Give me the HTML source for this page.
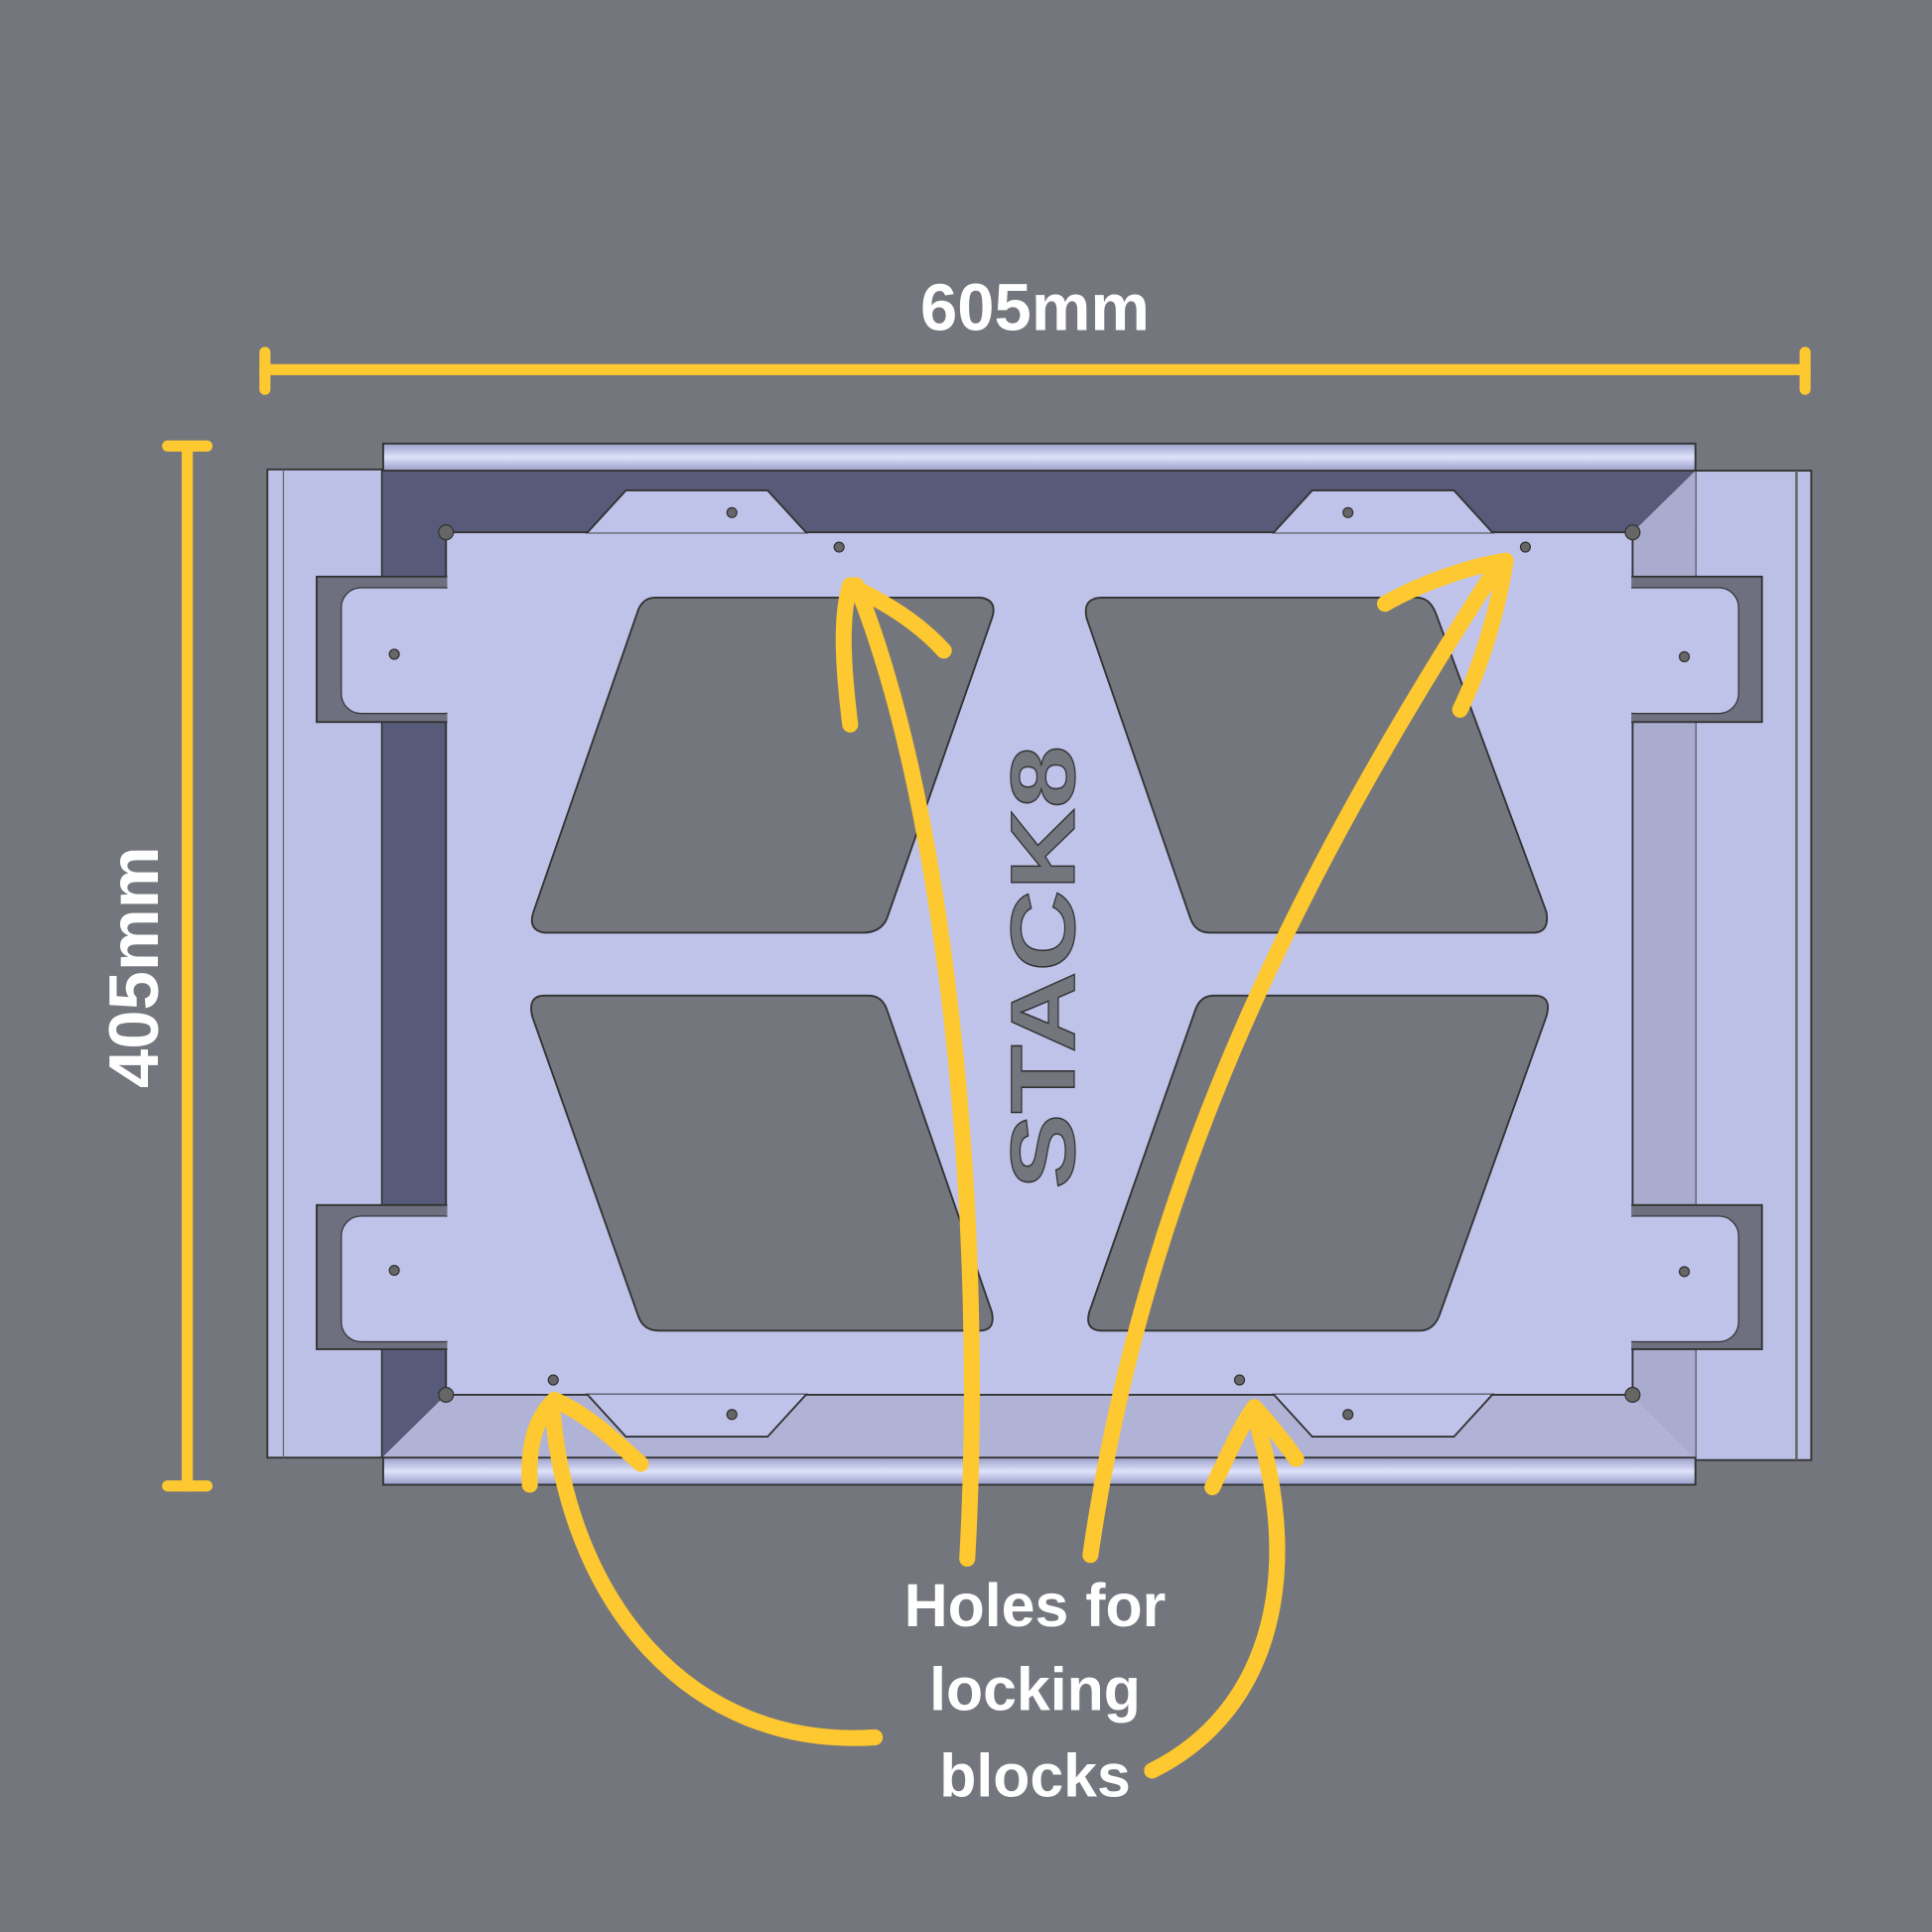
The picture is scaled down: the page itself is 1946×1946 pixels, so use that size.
<!DOCTYPE html>
<html><head><meta charset="utf-8"><style>
html,body{margin:0;padding:0;background:#74767d;}
svg{display:block;}
</style></head><body>
<svg width="1946" height="1946" viewBox="0 0 1568 1568" xmlns="http://www.w3.org/2000/svg">
<defs>
<linearGradient id="bar" x1="0" y1="0" x2="0" y2="1">
<stop offset="0" stop-color="#9a9ec8"/><stop offset="0.5" stop-color="#dfe2fb"/><stop offset="1" stop-color="#9a9ec8"/></linearGradient>
</defs>
<rect width="1568" height="1568" fill="#74767d"/>
<text x="840" y="268" text-anchor="middle" fill="#fff" font-family="Liberation Sans, sans-serif" font-weight="bold" font-size="54">605mm</text>
<g stroke="#fdc830" stroke-width="9" stroke-linecap="round" fill="none">
<line x1="215" y1="300" x2="1465" y2="300"/><line x1="215" y1="286" x2="215" y2="316"/><line x1="1465" y1="286" x2="1465" y2="316"/>
<line x1="152" y1="362" x2="152" y2="1206"/><line x1="136" y1="362" x2="168" y2="362"/><line x1="136" y1="1206" x2="168" y2="1206"/>
</g>
<text transform="translate(128,785) rotate(-90)" text-anchor="middle" fill="#fff" font-family="Liberation Sans, sans-serif" font-weight="bold" font-size="57">405mm</text>
<rect x="217" y="381" width="93" height="802" fill="#bcc0e6" stroke="#333" stroke-width="1.5"/>
<rect x="1376" y="382" width="94" height="803" fill="#bcc0e6" stroke="#333" stroke-width="1.5"/>
<line x1="230" y1="381" x2="230" y2="1183" stroke="#666" stroke-width="1"/>
<line x1="1458" y1="382" x2="1458" y2="1185" stroke="#666" stroke-width="2"/>
<rect x="310" y="382" width="1066" height="801" fill="#575a78" stroke="#333"/>
<polygon points="310,1183 1376,1183 1325,1132 362,1132" fill="#b0b3d5"/>
<polygon points="1376,382 1376,1183 1325,1132 1325,432" fill="#a9acce"/>
<rect x="311" y="360" width="1065" height="22" fill="url(#bar)" stroke="#333" stroke-width="1.5"/>
<rect x="311" y="1183" width="1065" height="22" fill="url(#bar)" stroke="#333" stroke-width="1.5"/>
<g fill="#bfc3ea" stroke="#333" stroke-width="1.5">
<rect x="362" y="432" width="963" height="700"/>
<polygon points="476,433 508,398 623,398 655,433"/><polygon points="1033,433 1065,398 1180,398 1212,433"/>
<polygon points="476,1131 508,1166 623,1166 655,1131"/><polygon points="1033,1131 1065,1166 1180,1166 1212,1131"/>
</g>
<g fill="#6e7080" stroke="#333" stroke-width="1.5">
<rect x="257" y="468" width="108" height="118"/><rect x="257" y="978" width="108" height="117"/>
<rect x="1322" y="468" width="108" height="118"/><rect x="1322" y="978" width="108" height="117"/>
</g>
<g fill="#bfc3ea" stroke="#333" stroke-width="1"><rect x="277" y="477" width="100" height="102" rx="16"/><rect x="277" y="987" width="100" height="102" rx="16"/><rect x="1310" y="477" width="101" height="102" rx="16"/><rect x="1310" y="987" width="101" height="102" rx="16"/></g>
<g fill="#bfc3ea"><rect x="363" y="433" width="961" height="698"/></g>
<g fill="#74767d" stroke="#333" stroke-width="1.5" stroke-linejoin="round">
<path d="M532,485 L796,485 Q810,487 805,502 L720,745 Q715,757 700,757 L442,757 Q428,755 433,740 L518,495 Q522,485 532,485Z"/>
<path d="M895,485 L1150,485 Q1160,485 1165,497 L1255,740 Q1258,757 1244,757 L982,757 Q970,757 966,745 L882,502 Q878,485 895,485Z"/>
<path d="M442,808 L705,808 Q716,808 720,820 L805,1065 Q808,1080 795,1080 L535,1080 Q522,1080 518,1068 L432,825 Q428,808 442,808Z"/>
<path d="M985,808 L1245,808 Q1260,808 1255,825 L1168,1068 Q1163,1080 1152,1080 L895,1080 Q880,1080 884,1065 L970,820 Q974,808 985,808Z"/>
</g>
<g fill="#666" stroke="#333"><circle cx="594" cy="416" r="4"/><circle cx="681" cy="444" r="4"/><circle cx="1094" cy="416" r="4"/><circle cx="1238" cy="444" r="4"/>
<circle cx="320" cy="531" r="4"/><circle cx="320" cy="1031" r="4"/><circle cx="1367" cy="533" r="4"/><circle cx="1367" cy="1032" r="4"/>
<circle cx="449" cy="1120" r="4"/><circle cx="594" cy="1148" r="4"/><circle cx="1006" cy="1120" r="4"/><circle cx="1094" cy="1148" r="4"/>
<circle cx="362" cy="432" r="6"/><circle cx="1325" cy="432" r="6"/><circle cx="362" cy="1132" r="6"/><circle cx="1325" cy="1132" r="6"/></g>
<text transform="translate(872,785) rotate(-90)" text-anchor="middle" fill="#74767d" stroke="#333" stroke-width="1" font-family="Liberation Sans, sans-serif" font-weight="bold" font-size="74" textLength="360" lengthAdjust="spacingAndGlyphs">STACK8</text>
<g stroke="#fdc830" stroke-width="13" stroke-linecap="round" stroke-linejoin="round" fill="none">
<path d="M785,1265 C800,1000 770,660 695,475"/><path d="M690,588 C684,540 682,500 690,475 C720,490 745,505 766,528"/>
<path d="M885,1262 C930,950 1060,700 1215,460"/><path d="M1124,490 C1150,475 1190,460 1222,455 C1215,500 1200,545 1185,576"/>
<path d="M710,1410 C560,1420 460,1300 448,1140"/><path d="M430,1205 C428,1170 436,1150 450,1136 C480,1150 500,1170 520,1188"/>
<path d="M935,1437 C1030,1390 1060,1280 1018,1148"/><path d="M984,1207 C995,1185 1005,1160 1018,1142 C1030,1155 1042,1170 1052,1184"/>
</g>
<g fill="#fff" font-family="Liberation Sans, sans-serif" font-weight="bold" font-size="49" text-anchor="middle">
<text x="840" y="1320">Holes for</text><text x="840" y="1388">locking</text><text x="840" y="1458">blocks</text>
</g>
</svg>
</body></html>
